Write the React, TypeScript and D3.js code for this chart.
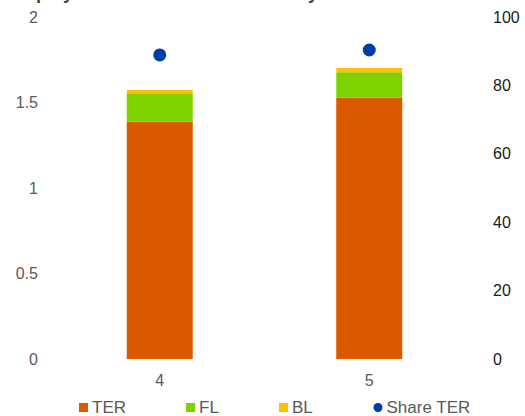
import React from "react";
import * as d3 from "d3";

const categories = ["4", "5"];
const terValues = [1.388, 1.528];
const flValues = [0.166, 0.149];
const blValues = [0.019, 0.025];
const shareTer = [88.9, 90.35];
const leftTicks = [0, 0.5, 1, 1.5, 2];
const rightTicks = [0, 20, 40, 60, 80, 100];
const seriesNames = ["TER", "FL", "BL"];
const colors = ["#db5a00", "#7ed200", "#ffc000"];
const dotColor = "#003da5";

const W = 525;
const H = 416;

export default function App() {
  const y = d3.scaleLinear().domain([0, 2]).range([359, 17]);
  const y2 = d3.scaleLinear().domain([0, 100]).range([359, 17]);
  const x = d3.scaleBand().domain(categories).range([55, 474]).paddingInner(0).paddingOuter(0);
  const barW = 66;

  const rows = categories.map((c, i) => ({ cat: c, TER: terValues[i], FL: flValues[i], BL: blValues[i] }));
  const stacked = d3.stack<any>().keys(seriesNames)(rows);

  const legend = [
    { label: "TER", x: 79, color: colors[0], type: "rect" },
    { label: "FL", x: 186, color: colors[1], type: "rect" },
    { label: "BL", x: 279, color: colors[2], type: "rect" },
    { label: "Share TER", x: 373.5, color: dotColor, type: "dot" },
  ];

  return (
    <svg width={W} height={H} style={{ position: "absolute", left: 0, top: 0 }} fontFamily="'Liberation Sans', Arial, sans-serif">
      <text x={8} y={-1} fontSize={18} fontWeight="bold" fill="#404040">Employment in the EU small fleet by</text>
      {stacked.map((s, si) => (
        <g key={s.key} fill={colors[si]}>
          {s.map((d, i) => {
            const cx = (x(categories[i]) as number) + x.bandwidth() / 2;
            return <rect key={i} x={cx - barW / 2} y={y(d[1])} width={barW} height={y(d[0]) - y(d[1])} />;
          })}
        </g>
      ))}
      {shareTer.map((v, i) => (
        <circle key={i} cx={(x(categories[i]) as number) + x.bandwidth() / 2} cy={y2(v)} r={6.5} fill={dotColor} />
      ))}
      {leftTicks.map((t) => (
        <text key={t} x={38} y={y(t)} dy="0.35em" textAnchor="end" fontSize={16} fill="#595959">
          {d3.format("")(t)}
        </text>
      ))}
      {rightTicks.map((t) => (
        <text key={t} x={493} y={y2(t)} dy="0.35em" textAnchor="start" fontSize={16} fill="#1a1a1a">
          {t}
        </text>
      ))}
      {categories.map((c) => (
        <text key={c} x={(x(c) as number) + x.bandwidth() / 2} y={380} dy="0.35em" textAnchor="middle" fontSize={16} fill="#595959">
          {c}
        </text>
      ))}
      {legend.map((l) => (
        <g key={l.label}>
          {l.type === "rect" ? (
            <rect x={l.x} y={403} width={9} height={9} fill={l.color} />
          ) : (
            <circle cx={l.x + 4.5} cy={407.5} r={4.5} fill={l.color} />
          )}
          <text x={l.x + 13} y={407.5} dy="0.35em" fontSize={17} fill="#595959">
            {l.label}
          </text>
        </g>
      ))}
    </svg>
  );
}
